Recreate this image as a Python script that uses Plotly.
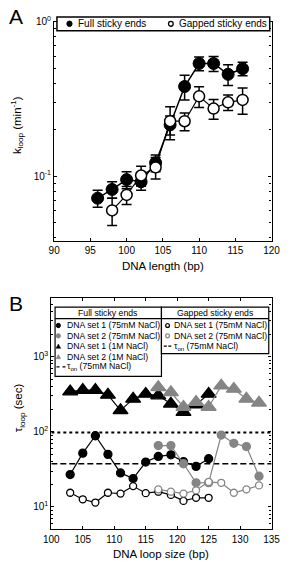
import plotly.graph_objects as go
import math

W, H = 290, 562

# ---------------- Panel A data ----------------
A_len_full = [96, 98, 100, 102, 104, 106, 108, 110, 112, 114, 116]
A_k_full = [0.072, 0.082, 0.095, 0.092, 0.122, 0.215, 0.381, 0.537, 0.537, 0.457, 0.497]
A_err_full = [0.009, 0.010, 0.012, 0.011, 0.015, 0.030, 0.070, 0.055, 0.060, 0.070, 0.050]

A_len_gap = [98, 100, 102, 104, 106, 108, 110, 112, 114, 116]
A_k_gap = [0.060, 0.0756, 0.101, 0.114, 0.227, 0.227, 0.329, 0.274, 0.301, 0.312]
A_err_gap = [0.012, 0.010, 0.015, 0.018, 0.055, 0.030, 0.050, 0.040, 0.035, 0.060]

A_xrange = [90, 120]
A_xticks = [90, 95, 100, 105, 110, 115, 120]
A_yticks = [0.1, 1]
A_yticktext = ["10<sup>-1</sup>", "10<sup>0</sup>"]

# ---------------- Panel B data ----------------
B_size_set1 = [103, 105, 107, 109, 111, 113, 115, 117, 119, 121, 123, 125]
B_size_set2 = [117, 119, 121, 123, 125, 127, 129, 131, 133]

B_tri_set1 = [343, 360, 360, 310, 193, 274, 319, 304, 236, 183, 230, 319]
B_tri_set2 = [392, 336, 214, 248, 214, 411, 372, 274, 243]
B_full_set1 = [26.9, 51.9, 88.5, 50, 28.3, 23.8, 39.5, 46.9, 49.3, 40, 34.6, 43.8]
B_full_set2 = [65.5, 65.5, 37.5, 20.9, 21, 90.5, 70.2, 63.5, 25.6]
B_gap_set1 = [15.4, 12.6, 11.4, 15.4, 15.0, 18.9, 15.2, 15.9, 14.4, 12.0, 13.2, 13.2]
B_gap_set2 = [17.1, 15.9, 15.0, 16.6, 21.5, 20.9, 15.4, 17.1, 19.3]

TAU_ON_FULL = 98
TAU_ON_GAP = 37.6

B_xrange = [100, 135]
B_xticks = [100, 105, 110, 115, 120, 125, 130, 135]
B_yrange = [5, 6000]
B_yticks = [10, 100, 1000]
B_yticktext = ["10<sup>1</sup>", "10<sup>2</sup>", "10<sup>3</sup>"]

GRAY = "#858585"
FONT = "Liberation Sans, Arial, sans-serif"


def px(x):
    return x / W


def py(y):
    return 1 - y / H


fig = go.Figure()

# Panel A traces
fig.add_trace(go.Scatter(
    x=A_len_full, y=A_k_full, mode="lines+markers", xaxis="x", yaxis="y",
    line=dict(color="black", width=1.5),
    marker=dict(symbol="circle", size=12, color="black", line=dict(color="black", width=1)),
    error_y=dict(type="data", array=A_err_full, color="black", thickness=1.5, width=5),
    showlegend=False))
fig.add_trace(go.Scatter(
    x=A_len_gap, y=A_k_gap, mode="lines+markers", xaxis="x", yaxis="y",
    line=dict(color="black", width=1.2),
    marker=dict(symbol="circle", size=11, color="white", line=dict(color="black", width=1.5)),
    error_y=dict(type="data", array=A_err_gap, color="black", thickness=1.5, width=5),
    showlegend=False))

# Panel B traces
fig.add_trace(go.Scatter(
    x=B_xrange, y=[TAU_ON_FULL, TAU_ON_FULL], mode="lines", xaxis="x2", yaxis="y2",
    line=dict(color="black", width=2, dash="dot"), showlegend=False))
fig.add_trace(go.Scatter(
    x=B_xrange, y=[TAU_ON_GAP, TAU_ON_GAP], mode="lines", xaxis="x2", yaxis="y2",
    line=dict(color="black", width=1.5, dash="6px,3px"), showlegend=False))

series_B = [
    (B_size_set1, B_tri_set1, "triangle-up", "black", "black", 13),
    (B_size_set2, B_tri_set2, "triangle-up", GRAY, GRAY, 13),
    (B_size_set1, B_full_set1, "circle", "black", "black", 8),
    (B_size_set2, B_full_set2, "circle", GRAY, GRAY, 8),
    (B_size_set1, B_gap_set1, "circle", "white", "black", 7),
    (B_size_set2, B_gap_set2, "circle", "white", GRAY, 7),
]
for xs, ys, sym, fill, edge, sz in series_B:
    fig.add_trace(go.Scatter(
        x=xs, y=ys, mode="lines+markers", xaxis="x2", yaxis="y2",
        line=dict(color=edge, width=1.2),
        marker=dict(symbol=sym, size=sz, color=fill, line=dict(color=edge, width=1.3)),
        showlegend=False))

axis_common = dict(
    showline=True, linecolor="black", linewidth=1.2, mirror="ticks",
    ticks="inside", ticklen=3, tickwidth=1, tickcolor="black",
    showgrid=False, zeroline=False,
    tickfont=dict(family=FONT, size=10, color="black"),
)

minorA = [v * 0.01 for v in range(4, 10)] + [v * 0.1 for v in range(2, 10)]
minorB = [float(v) for v in range(5, 10)] + [v * 10.0 for v in range(2, 10)] + \
         [v * 100.0 for v in range(2, 10)] + [v * 1000.0 for v in range(2, 7)]

fig.update_layout(
    width=W, height=H, autosize=False,
    margin=dict(l=0, r=0, t=0, b=0),
    paper_bgcolor="white", plot_bgcolor="white",
    font=dict(family=FONT, color="black"),
    xaxis=dict(domain=[px(49), px(280)], range=A_xrange, tickvals=A_xticks,
               anchor="y", **axis_common),
    yaxis=dict(domain=[py(237), py(15)], type="log",
               range=[math.log10(0.038), 0], tickvals=A_yticks, ticktext=A_yticktext,
               minor=dict(tickvals=minorA, ticks="inside", ticklen=2, tickcolor="black"),
               anchor="x", **axis_common),
    xaxis2=dict(domain=[px(46), px(280)], range=B_xrange, tickvals=B_xticks,
                anchor="y2", **axis_common),
    yaxis2=dict(domain=[py(529), py(295)], type="log",
                range=[math.log10(B_yrange[0]), math.log10(B_yrange[1])],
                tickvals=B_yticks, ticktext=B_yticktext,
                minor=dict(tickvals=minorB, ticks="inside", ticklen=2, tickcolor="black"),
                anchor="x2", **axis_common),
)

shapes = []
ann = []


def rect(x0, y0, x1, y1, lw=1.2):
    shapes.append(dict(type="rect", xref="paper", yref="paper",
                       x0=px(x0), x1=px(x1), y0=py(y1), y1=py(y0),
                       line=dict(color="black", width=lw), fillcolor="white", layer="above"))


def hline(x0, x1, y, lw=1.2, dash="solid"):
    shapes.append(dict(type="line", xref="paper", yref="paper",
                       x0=px(x0), x1=px(x1), y0=py(y), y1=py(y),
                       line=dict(color="black", width=lw, dash=dash), layer="above"))


def circ(cx, cy, r, fill, edge, lw=1.0):
    shapes.append(dict(type="circle", xref="paper", yref="paper",
                       x0=px(cx - r), x1=px(cx + r), y0=py(cy + r), y1=py(cy - r),
                       line=dict(color=edge, width=lw), fillcolor=fill, layer="above"))


def tri(cx, cy, s, color):
    h = s * 0.87
    path = "M {} {} L {} {} L {} {} Z".format(
        px(cx - s / 2), py(cy + h / 2), px(cx + s / 2), py(cy + h / 2), px(cx), py(cy - h / 2))
    shapes.append(dict(type="path", xref="paper", yref="paper", path=path,
                       fillcolor=color, line=dict(color=color, width=0.5), layer="above"))


def text(x, y, s, size=9, anchor="left", angle=0):
    ann.append(dict(xref="paper", yref="paper", x=px(x), y=py(y), text=s,
                    showarrow=False, xanchor=anchor, yanchor="middle", textangle=angle,
                    borderpad=0, borderwidth=0,
                    font=dict(family=FONT, size=size, color="black")))


# Panel A legend
rect(52, 10, 278, 24, lw=1.5)
circ(65.3, 17, 2.8, "black", "black")
text(74, 17.2, "Full sticky ends", size=10)
circ(173, 17, 2.5, "white", "black", lw=1.3)
text(182, 17.2, "Gapped sticky ends", size=10)

# Panel B legends
LFS = 8.7
rect(50, 304, 163, 374)
hline(50, 163, 315.5)
text(106.5, 310, "Full sticky ends", size=LFS, anchor="center")
rows = [322.5, 333, 343.5, 354, 364.5]
circ(53.5, rows[0], 2.2, "black", "black")
text(63, rows[0], "DNA set 1 (75mM NaCl)", size=LFS)
circ(53.5, rows[1], 2.2, GRAY, GRAY)
text(63, rows[1], "DNA set 2 (75mM NaCl)", size=LFS)
tri(53.5, rows[2], 5, "black")
text(63, rows[2], "DNA set 1 (1M NaCl)", size=LFS)
tri(53.5, rows[3], 5, GRAY)
text(63, rows[3], "DNA set 2 (1M NaCl)", size=LFS)
hline(51.5, 62, rows[4], lw=1.3, dash="dot")
text(63, rows[4], "τ<sub>on</sub> (75mM NaCl)", size=LFS)

rect(163, 304, 277, 351)
hline(163, 277, 315.5)
text(220, 310, "Gapped sticky ends", size=LFS, anchor="center")
circ(169.5, rows[0], 2.0, "white", "black", lw=1.2)
text(176.5, rows[0], "DNA set 1 (75mM NaCl)", size=LFS)
circ(169.5, rows[1], 2.0, "white", GRAY, lw=1.2)
text(176.5, rows[1], "DNA set 2 (75mM NaCl)", size=LFS)
hline(165.5, 174.5, rows[2], lw=1.3, dash="3px,1.5px")
text(176.5, rows[2], "τ<sub>on</sub> (75mM NaCl)", size=LFS)

# axis titles and panel letters
text(165, 262.5, "DNA length (bp)", size=11.5, anchor="center")
text(163, 554, "DNA loop size (bp)", size=11.5, anchor="center")
text(9, 119, "k<sub>loop</sub> (min<sup>-1</sup>)", size=11.5, anchor="center", angle=-90)
text(12, 406, "τ<sub>loop</sub> (sec)", size=11.5, anchor="center", angle=-90)
text(9, 10, "A", size=21, anchor="center")
text(8, 300, "B", size=21, anchor="center")

fig.update_layout(shapes=shapes, annotations=ann)
fig.write_html("out.html", config={"displayModeBar": False},
               post_script="document.body.style.margin='0px';document.body.style.padding='0px';")
